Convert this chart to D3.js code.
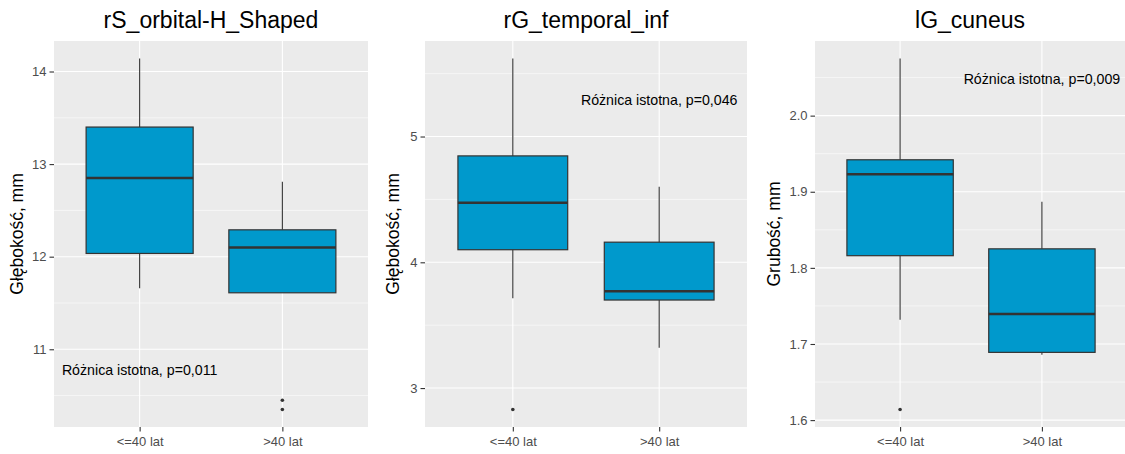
<!DOCTYPE html>
<html>
<head>
<meta charset="utf-8">
<script src="https://cdn.jsdelivr.net/npm/d3@7/dist/d3.min.js"></script>
<style>
  html, body { margin: 0; padding: 0; background: #fff; }
  svg { display: block; font-family: "Liberation Sans", Arial, sans-serif; }
</style>
</head>
<body>
<svg id="chart" width="1125" height="454"></svg>
<script>
// ---------- data ----------
const categories = ["<=40 lat", ">40 lat"];
const panelTitles = ["rS_orbital-H_Shaped", "rG_temporal_inf", "lG_cuneus"];
const yLabels = ["Głębokość, mm", "Głębokość, mm", "Grubość, mm"];

// box statistics per panel: [category1, category2], each {lo, q1, med, q3, hi}
const orbitalStats = [
  { lo: 11.66, q1: 12.035, med: 12.85, q3: 13.40, hi: 14.14 },
  { lo: 11.61, q1: 11.61, med: 12.10, q3: 12.29, hi: 12.81 }
];
const orbitalOutliers = [[], [10.45, 10.35]];

const temporalStats = [
  { lo: 3.715, q1: 4.10, med: 4.474, q3: 4.846, hi: 5.62 },
  { lo: 3.32, q1: 3.70, med: 3.77, q3: 4.16, hi: 4.60 }
];
const temporalOutliers = [[2.83], []];

const cuneusStats = [
  { lo: 1.732, q1: 1.816, med: 1.923, q3: 1.942, hi: 2.075 },
  { lo: 1.686, q1: 1.689, med: 1.7395, q3: 1.825, hi: 1.887 }
];
const cuneusOutliers = [[1.614], []];

const majorTicks = [[11, 12, 13, 14], [3, 4, 5], [1.6, 1.7, 1.8, 1.9, 2.0]];
const minorTicks = [[10.5, 11.5, 12.5, 13.5], [3.5, 4.5, 5.5], [1.65, 1.75, 1.85, 1.95, 2.05]];
const tickFormats = ["d", "d", ".1f"];

const annotations = ["Różnica istotna, p=0,011", "Różnica istotna, p=0,046", "Różnica istotna, p=0,009"];
const annotationCategory = [1, 2, 2];
const annotationValue = [10.78, 5.29, 2.0476];

// ---------- layout ----------
const panelX = [[54, 368], [425, 747], [815, 1127]];
const panelTop = 41, panelBottom = 427;
const yLabelX = [17, 393, 774];

const statsList = [orbitalStats, temporalStats, cuneusStats];
const outlierList = [orbitalOutliers, temporalOutliers, cuneusOutliers];

const svg = d3.select("#chart");

statsList.forEach((stats, p) => {
  const outs = outlierList[p];
  // ggplot-style 5% expansion of data range
  const allVals = stats.flatMap(s => [s.lo, s.hi]).concat(outs.flat());
  const mn = d3.min(allVals), mx = d3.max(allVals);
  const pad = (mx - mn) * 0.05;
  const y = d3.scaleLinear().domain([mn - pad, mx + pad]).range([panelBottom, panelTop]);
  const x = d3.scaleLinear().domain([0.4, 2.6]).range(panelX[p]);
  const x0 = panelX[p][0], x1 = panelX[p][1];

  const g = svg.append("g");

  // background
  g.append("rect")
    .attr("x", x0).attr("y", panelTop)
    .attr("width", x1 - x0).attr("height", panelBottom - panelTop)
    .attr("fill", "#EBEBEB");

  // minor grid
  g.selectAll(".minor").data(minorTicks[p]).join("line")
    .attr("x1", x0).attr("x2", x1)
    .attr("y1", d => y(d)).attr("y2", d => y(d))
    .attr("stroke", "#fff").attr("stroke-width", 0.55);
  // major grid
  g.selectAll(".major").data(majorTicks[p]).join("line")
    .attr("x1", x0).attr("x2", x1)
    .attr("y1", d => y(d)).attr("y2", d => y(d))
    .attr("stroke", "#fff").attr("stroke-width", 1.1);
  g.selectAll(".vmajor").data(categories).join("line")
    .attr("x1", (d, i) => x(i + 1)).attr("x2", (d, i) => x(i + 1))
    .attr("y1", panelTop).attr("y2", panelBottom)
    .attr("stroke", "#fff").attr("stroke-width", 1.1);

  // boxes
  stats.forEach((s, i) => {
    const cx = x(i + 1);
    const hw = (x(1.375) - x(1));
    g.append("line")
      .attr("x1", cx).attr("x2", cx).attr("y1", y(s.hi)).attr("y2", y(s.q3))
      .attr("stroke", "#333333").attr("stroke-width", 1.1);
    g.append("line")
      .attr("x1", cx).attr("x2", cx).attr("y1", y(s.q1)).attr("y2", y(s.lo))
      .attr("stroke", "#333333").attr("stroke-width", 1.1);
    g.append("rect")
      .attr("x", cx - hw).attr("y", y(s.q3))
      .attr("width", 2 * hw).attr("height", y(s.q1) - y(s.q3))
      .attr("fill", "#0099CC").attr("stroke", "#333333").attr("stroke-width", 1.2);
    g.append("line")
      .attr("x1", cx - hw).attr("x2", cx + hw).attr("y1", y(s.med)).attr("y2", y(s.med))
      .attr("stroke", "#333333").attr("stroke-width", 2.4);
    g.selectAll(null).data(outs[i]).join("circle")
      .attr("cx", cx).attr("cy", d => y(d)).attr("r", 1.8)
      .attr("fill", "#333333");
  });

  // annotation
  g.append("text")
    .attr("x", x(annotationCategory[p])).attr("y", y(annotationValue[p]))
    .attr("text-anchor", "middle").attr("dominant-baseline", "central")
    .style("font-size", "14.2px").attr("fill", "#000")
    .text(annotations[p]);

  // y axis
  const ya = g.append("g").attr("transform", `translate(${x0},0)`)
    .call(d3.axisLeft(y).tickValues(majorTicks[p]).tickFormat(d3.format(tickFormats[p])).tickSize(4.5).tickPadding(3));
  ya.select(".domain").remove();
  ya.attr("font-size", null).attr("font-family", null);
  ya.selectAll(".tick line").attr("stroke", "#333333").attr("stroke-width", 1.1);
  ya.selectAll(".tick text").attr("fill", "#4D4D4D")
    .style("font-size", "13px").style("font-family", "'Liberation Sans', Arial, sans-serif");

  // x axis
  const xa = g.append("g").attr("transform", `translate(0,${panelBottom})`)
    .call(d3.axisBottom(x).tickValues([1, 2]).tickFormat(d => categories[d - 1]).tickSize(4.5).tickPadding(5));
  xa.select(".domain").remove();
  xa.attr("font-size", null).attr("font-family", null);
  xa.selectAll(".tick line").attr("stroke", "#333333").attr("stroke-width", 1.1);
  xa.selectAll(".tick text").attr("fill", "#4D4D4D")
    .style("font-size", "13px").style("font-family", "'Liberation Sans', Arial, sans-serif");

  // title
  svg.append("text")
    .attr("x", (x0 + Math.min(x1, 1125)) / 2).attr("y", 28)
    .attr("text-anchor", "middle").style("font-size", "23px").attr("fill", "#000")
    .text(panelTitles[p]);

  // y label
  svg.append("text")
    .attr("transform", `translate(${yLabelX[p]},${(panelTop + panelBottom) / 2}) rotate(-90)`)
    .attr("text-anchor", "middle").attr("dominant-baseline", "central")
    .style("font-size", "17.5px").attr("fill", "#000")
    .text(yLabels[p]);
});
</script>
</body>
</html>
